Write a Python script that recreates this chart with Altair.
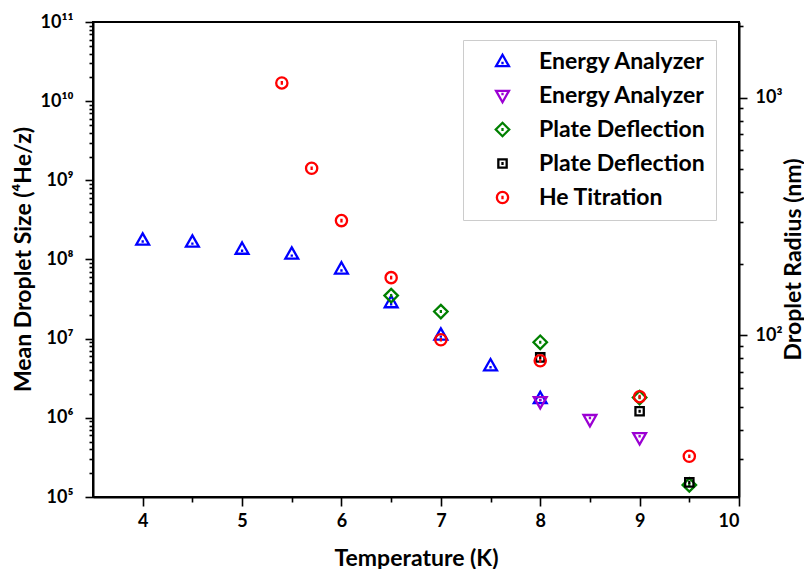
import altair as alt
import pandas as pd

# ---- data ----
series_keys = ["ea_up", "ea_down", "pd_diamond", "pd_square", "he_titration"]
series_names = ["Energy Analyzer", "Energy Analyzer", "Plate Deflection", "Plate Deflection", "He Titration"]
series_colors = ["#0000ff", "#9b00d3", "#008000", "#000000", "#ff0000"]

temps_ea_up = [4, 4.5, 5, 5.5, 6, 6.5, 7, 7.5, 8]
size_ea_up = [1.76e8, 1.66e8, 1.35e8, 1.17e8, 7.6e7, 2.85e7, 1.11e7, 4.55e6, 1.75e6]
temps_ea_down = [8, 8.5, 9]
size_ea_down = [1.6e6, 9.5e5, 5.6e5]
temps_pd_diamond = [6.5, 7, 8, 9, 9.5]
size_pd_diamond = [3.5e7, 2.2e7, 9.0e6, 1.8e6, 1.42e5]
temps_pd_square = [8, 9, 9.5]
size_pd_square = [5.8e6, 1.21e6, 1.53e5]
temps_he = [5.4, 5.7, 6, 6.5, 7, 8, 9, 9.5]
size_he = [1.7e10, 1.42e9, 3.1e8, 5.9e7, 9.7e6, 5.25e6, 1.85e6, 3.27e5]

x_ticks = [4, 4.5, 5, 5.5, 6, 6.5, 7, 7.5, 8, 8.5, 9, 9.5, 10]
y_decades = [5, 6, 7, 8, 9, 10, 11]
r_decades = [1, 2, 3]
sup = {"1": "\u00b9", "2": "\u00b2", "3": "\u00b3", "4": "\u2074", "5": "\u2075",
       "6": "\u2076", "7": "\u2077", "8": "\u2078", "9": "\u2079", "0": "\u2070"}

# shapes (hollow markers with a small inner tick)
shape_paths = [
    "M0,-1.1L1.05,0.75L-1.05,0.75Z M0,0.05L0,0.45",
    "M0,1.1L1.05,-0.75L-1.05,-0.75Z M0,-0.05L0,-0.45",
    "M0,-1.1L1.1,0L0,1.1L-1.1,0Z M0,-0.25L0,0.25",
    "M-0.68,-0.68L0.68,-0.68L0.68,0.68L-0.68,0.68Z M0,-0.25L0,0.25",
    "M0.92,0A0.92,0.92 0 1,1 -0.92,0A0.92,0.92 0 1,1 0.92,0Z M0,-0.3L0,0.3",
]

rows = []
for key, ts, vs in [
    ("ea_up", temps_ea_up, size_ea_up),
    ("ea_down", temps_ea_down, size_ea_down),
    ("pd_diamond", temps_pd_diamond, size_pd_diamond),
    ("pd_square", temps_pd_square, size_pd_square),
    ("he_titration", temps_he, size_he),
]:
    for t, v in zip(ts, vs):
        rows.append({"T": t, "N": v, "series": key, "ord": series_keys.index(key)})
df = pd.DataFrame(rows)

# tick values
y_vals = []
for d in y_decades[:-1]:
    for k in range(1, 10):
        y_vals.append(k * 10.0 ** d)
y_vals.append(10.0 ** y_decades[-1])
r_vals = []
for d in r_decades[:-1]:
    for k in range(1, 10):
        r_vals.append(k * 10.0 ** d)
r_vals = [v for v in r_vals if v >= 30] + [1000.0, 2000.0]


def sup_label_expr(decs):
    expr = "''"
    for d in reversed(decs):
        s = "10" + "".join(sup[c] for c in str(d))
        expr = f"abs(datum.value - {10.0 ** d}) < 1e-6 * {10.0 ** d} ? '{s}' : " + expr
    return expr


decade_test = "abs(log(datum.value)/LN10 - round(log(datum.value)/LN10)) < 1e-6"
legend_label_expr = "".join(
    f"datum.label == '{k}' ? '{n}' : " for k, n in zip(series_keys, series_names)
) + "datum.label"

FONT = "Lato"

x_scale = alt.Scale(domain=[3.5, 10], nice=False, zero=False)

points = alt.Chart(df).mark_point(filled=False, strokeWidth=2.3, size=150, opacity=1).encode(
    x=alt.X("T:Q", scale=x_scale,
            axis=alt.Axis(title="Temperature (K)", values=x_ticks,
                          labelExpr="datum.value % 1 == 0 ? format(datum.value, 'd') : ''",
                          tickSize={"condition": {"test": "datum.value % 1 == 0", "value": 9}, "value": 5},
                          labelPadding=6, titleY=61, titleBaseline="middle",
                          grid=False)),
    y=alt.Y("N:Q", scale=alt.Scale(type="log", domain=[1e5, 1e11], nice=False),
            axis=alt.Axis(title="Mean Droplet Size (\u2074He/z)", values=y_vals,
                          labelExpr=sup_label_expr(y_decades),
                          tickSize={"condition": {"test": decade_test, "value": 8}, "value": 4},
                          labelPadding=12, titleAngle=-90, titleX=-70, titleY=237,
                          titleBaseline="middle", titleAlign="center", grid=False)),
    color=alt.Color("series:N", scale=alt.Scale(domain=series_keys, range=series_colors),
                    legend=alt.Legend(title=None, labelExpr=legend_label_expr)),
    shape=alt.Shape("series:N", scale=alt.Scale(domain=series_keys, range=shape_paths),
                    legend=alt.Legend(title=None, labelExpr=legend_label_expr)),
    order=alt.Order("ord:Q"),
)

r_df = pd.DataFrame({"T": [3.5, 3.5], "R": [20.8, 2080.0]})
right = alt.Chart(r_df).mark_point(opacity=0).encode(
    x=alt.X("T:Q", scale=x_scale),
    y=alt.Y("R:Q", scale=alt.Scale(type="log", domain=[20.8, 2080.0], nice=False),
            axis=alt.Axis(orient="right", title="Droplet Radius (nm)", values=r_vals,
                          labelExpr=sup_label_expr([2, 3]),
                          tickSize={"condition": {"test": decade_test, "value": 8}, "value": 4},
                          labelPadding=8, titleAngle=-90, titleX=54, titleY=237,
                          titleBaseline="middle", titleAlign="center", grid=False)),
)

chart = alt.layer(points, right).resolve_scale(y="independent").properties(
    width=646, height=475,
    padding={"left": 85, "top": 14, "right": 65, "bottom": 72},
    autosize=alt.AutoSizeParams(type="none"),
).configure_view(stroke="black", strokeWidth=2).configure_axis(
    domainColor="black", domainWidth=2, tickColor="black", tickWidth=1.6,
    labelFont=FONT, labelFontSize=18, labelFontWeight="bold", labelColor="black",
    titleFont=FONT, titleFontSize=23, titleFontWeight="bold", titleColor="black",
).configure_legend(
    orient="none", legendX=370, legendY=18, strokeColor="#cccccc", strokeWidth=1,
    fillColor="white", padding=10, labelFont=FONT, labelFontSize=23, labelFontWeight="bold",
    labelColor="black", symbolStrokeWidth=2.3, symbolSize=150, rowPadding=10,
    symbolOffset=18, labelOffset=25, symbolFillColor="transparent", labelLimit=400,
)

chart.save("out.html", embed_options={"renderer": "svg", "actions": False})
